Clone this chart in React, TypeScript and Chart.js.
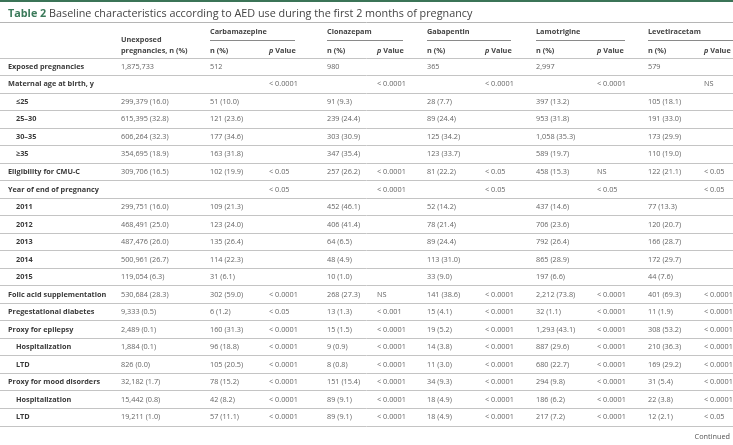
import React, { useEffect, useRef } from "react";
import { Chart, registerables } from "chart.js";

Chart.register(...registerables);

const TITLE_BOLD = "Table 2";
const TITLE_REST = "Baseline characteristics according to AED use during the first 2 months of pregnancy";

const drugs = ["Carbamazepine", "Clonazepam", "Gabapentin", "Lamotrigine", "Levetiracetam"];

const rowLabels = [
  "Exposed pregnancies", "Maternal age at birth, y", "≤25", "25–30", "30–35", "≥35",
  "Eligibility for CMU-C", "Year of end of pregnancy", "2011", "2012", "2013", "2014", "2015",
  "Folic acid supplementation", "Pregestational diabetes", "Proxy for epilepsy", "Hospitalization", "LTD",
  "Proxy for mood disorders", "Hospitalization", "LTD",
];
const subRows = [2, 3, 4, 5, 8, 9, 10, 11, 12, 16, 17, 19, 20];

const unexposed = [
  "1,875,733", "", "299,379 (16.0)", "615,395 (32.8)", "606,264 (32.3)", "354,695 (18.9)",
  "309,706 (16.5)", "", "299,751 (16.0)", "468,491 (25.0)", "487,476 (26.0)", "500,961 (26.7)", "119,054 (6.3)",
  "530,684 (28.3)", "9,333 (0.5)", "2,489 (0.1)", "1,884 (0.1)", "826 (0.0)", "32,182 (1.7)", "15,442 (0.8)", "19,211 (1.0)",
];

const carbN = ["512", "", "51 (10.0)", "121 (23.6)", "177 (34.6)", "163 (31.8)", "102 (19.9)", "", "109 (21.3)", "123 (24.0)", "135 (26.4)", "114 (22.3)", "31 (6.1)", "302 (59.0)", "6 (1.2)", "160 (31.3)", "96 (18.8)", "105 (20.5)", "78 (15.2)", "42 (8.2)", "57 (11.1)"];
const carbP = ["", "< 0.0001", "", "", "", "", "< 0.05", "< 0.05", "", "", "", "", "", "< 0.0001", "< 0.05", "< 0.0001", "< 0.0001", "< 0.0001", "< 0.0001", "< 0.0001", "< 0.0001"];

const clonN = ["980", "", "91 (9.3)", "239 (24.4)", "303 (30.9)", "347 (35.4)", "257 (26.2)", "", "452 (46.1)", "406 (41.4)", "64 (6.5)", "48 (4.9)", "10 (1.0)", "268 (27.3)", "13 (1.3)", "15 (1.5)", "9 (0.9)", "8 (0.8)", "151 (15.4)", "89 (9.1)", "89 (9.1)"];
const clonP = ["", "< 0.0001", "", "", "", "", "< 0.0001", "< 0.0001", "", "", "", "", "", "NS", "< 0.001", "< 0.0001", "< 0.0001", "< 0.0001", "< 0.0001", "< 0.0001", "< 0.0001"];

const gabaN = ["365", "", "28 (7.7)", "89 (24.4)", "125 (34.2)", "123 (33.7)", "81 (22.2)", "", "52 (14.2)", "78 (21.4)", "89 (24.4)", "113 (31.0)", "33 (9.0)", "141 (38.6)", "15 (4.1)", "19 (5.2)", "14 (3.8)", "11 (3.0)", "34 (9.3)", "18 (4.9)", "18 (4.9)"];
const gabaP = ["", "< 0.0001", "", "", "", "", "< 0.05", "< 0.05", "", "", "", "", "", "< 0.0001", "< 0.0001", "< 0.0001", "< 0.0001", "< 0.0001", "< 0.0001", "< 0.0001", "< 0.0001"];

const lamoN = ["2,997", "", "397 (13.2)", "953 (31.8)", "1,058 (35.3)", "589 (19.7)", "458 (15.3)", "", "437 (14.6)", "706 (23.6)", "792 (26.4)", "865 (28.9)", "197 (6.6)", "2,212 (73.8)", "32 (1.1)", "1,293 (43.1)", "887 (29.6)", "680 (22.7)", "294 (9.8)", "186 (6.2)", "217 (7.2)"];
const lamoP = ["", "< 0.0001", "", "", "", "", "NS", "< 0.05", "", "", "", "", "", "< 0.0001", "< 0.0001", "< 0.0001", "< 0.0001", "< 0.0001", "< 0.0001", "< 0.0001", "< 0.0001"];

const leveN = ["579", "", "105 (18.1)", "191 (33.0)", "173 (29.9)", "110 (19.0)", "122 (21.1)", "", "77 (13.3)", "120 (20.7)", "166 (28.7)", "172 (29.7)", "44 (7.6)", "401 (69.3)", "11 (1.9)", "308 (53.2)", "210 (36.3)", "169 (29.2)", "31 (5.4)", "22 (3.8)", "12 (2.1)"];
const leveP = ["", "NS", "", "", "", "", "< 0.05", "< 0.05", "", "", "", "", "", "< 0.0001", "< 0.0001", "< 0.0001", "< 0.0001", "< 0.0001", "< 0.0001", "< 0.0001", "< 0.05"];

const FONT = "'Open Sans', 'Noto Sans', sans-serif";
const W = 733;
const H = 445;

// layout (column anchors in x-scale units)
const COL_LABEL = 8;
const COL_SUB = 16;
const COL_UNEXP = 121;
const DRUG_N = [210, 327, 427, 536, 648];
const DRUG_P = [269, 377, 485, 597, 704];
const GROUP_END = [295, 403, 511, 625, 733];

const tablePlugin = {
  id: "tablePlugin",
  afterDraw(chart: any) {
    const ctx = chart.ctx as CanvasRenderingContext2D;
    const x = chart.scales.x;
    const y = chart.scales.y;
    const px = (v: number) => x.getPixelForValue(v);
    ctx.save();
    // green top bar
    ctx.fillStyle = "#3b7457";
    ctx.fillRect(0, 0, W, 2);
    // title
    ctx.textBaseline = "middle";
    ctx.textAlign = "left";
    ctx.font = `bold 10.8px ${FONT}`;
    ctx.fillStyle = "#3b7a5a";
    ctx.fillText(TITLE_BOLD, px(COL_LABEL), 14);
    const tw = ctx.measureText(TITLE_BOLD + " ").width;
    ctx.font = `10.8px ${FONT}`;
    ctx.fillStyle = "#444";
    ctx.fillText(TITLE_REST, px(COL_LABEL) + tw, 14);

    // header top line
    ctx.strokeStyle = "#b5b5b5";
    ctx.lineWidth = 1;
    ctx.beginPath();
    ctx.moveTo(0, 22.5);
    ctx.lineTo(W, 22.5);
    ctx.stroke();

    // header texts
    ctx.font = `bold 7.3px ${FONT}`;
    ctx.fillStyle = "#444";
    ctx.fillText("Unexposed", px(COL_UNEXP), 39.5);
    ctx.fillText("pregnancies, n (%)", px(COL_UNEXP), 50.5);
    drugs.forEach((d, i) => {
      ctx.font = `bold 7.3px ${FONT}`;
      ctx.fillStyle = "#444";
      ctx.fillText(d, px(DRUG_N[i]), 31.5);
      ctx.fillText("n (%)", px(DRUG_N[i]), 50.5);
      ctx.font = `italic bold 7.3px ${FONT}`;
      ctx.fillText("p", px(DRUG_P[i]), 50.5);
      const pw = ctx.measureText("p ").width;
      ctx.font = `bold 7.3px ${FONT}`;
      ctx.fillText("Value", px(DRUG_P[i]) + pw, 50.5);
      ctx.strokeStyle = "#8a8a8a";
      ctx.beginPath();
      ctx.moveTo(px(DRUG_N[i]), 40.5);
      ctx.lineTo(px(GROUP_END[i]), 40.5);
      ctx.stroke();
    });

    // body
    const nCols = [carbN, clonN, gabaN, lamoN, leveN];
    const pCols = [carbP, clonP, gabaP, lamoP, leveP];
    rowLabels.forEach((lab, r) => {
      const yy = y.getPixelForValue(r);
      const sub = subRows.includes(r);
      ctx.font = `bold 7.3px ${FONT}`;
      ctx.fillStyle = "#3a3a3a";
      ctx.fillText(lab, px(sub ? COL_SUB : COL_LABEL), yy);
      ctx.font = `7.3px ${FONT}`;
      ctx.fillStyle = "#666";
      if (unexposed[r]) ctx.fillText(unexposed[r], px(COL_UNEXP), yy);
      nCols.forEach((c, i) => { if (c[r]) ctx.fillText(c[r], px(DRUG_N[i]), yy); });
      pCols.forEach((c, i) => { if (c[r]) ctx.fillText(c[r], px(DRUG_P[i]), yy); });
    });

    ctx.textAlign = "right";
    ctx.font = `7.3px ${FONT}`;
    ctx.fillStyle = "#555";
    ctx.fillText("Continued", W - 3, 437);
    ctx.restore();
  },
};

export default function App() {
  const ref = useRef<HTMLCanvasElement | null>(null);
  useEffect(() => {
    if (!ref.current) return;
    const chart = new Chart(ref.current, {
      type: "bar",
      data: { labels: rowLabels, datasets: [] },
      options: {
        animation: false,
        responsive: false,
        maintainAspectRatio: false,
        indexAxis: "y",
        layout: { padding: { top: 58, bottom: 19, left: 0, right: 0 } },
        plugins: { legend: { display: false }, title: { display: false }, tooltip: { enabled: false } },
        scales: {
          x: { type: "linear", min: 0, max: W, display: false },
          y: {
            type: "category",
            labels: rowLabels,
            offset: true,
            display: true,
            ticks: { display: false },
            border: { display: false },
            grid: { offset: true, color: "#c4c4c4", lineWidth: 1, drawTicks: false },
          },
        },
      },
      plugins: [tablePlugin],
    } as any);
    return () => chart.destroy();
  }, []);
  return (
    <div style={{ position: "fixed", left: 0, top: 0, width: W, height: H, background: "#fff" }}>
      <canvas ref={ref} width={W} height={H} style={{ width: W, height: H, display: "block" }} />
    </div>
  );
}
